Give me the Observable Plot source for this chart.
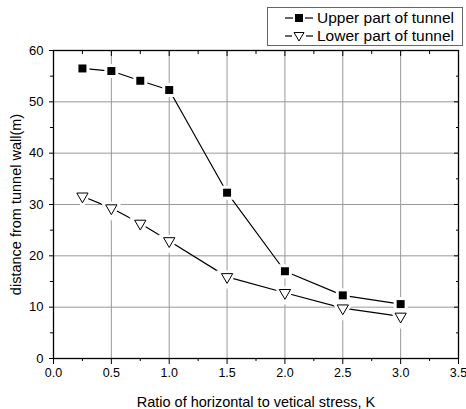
<!DOCTYPE html>
<html><head><meta charset="utf-8">
<script src="https://cdn.jsdelivr.net/npm/d3@7"></script>
<script src="https://cdn.jsdelivr.net/npm/@observablehq/plot@0.6"></script>
<style>
body{margin:0;background:#fff;font-family:"Liberation Sans",Arial,sans-serif;}
#wrap{position:relative;width:466px;height:409px;}
#legend{position:absolute;left:267px;top:7px;width:194px;height:37px;border:1px solid #666;background:#fff;font-size:15.5px;}
.row{position:absolute;height:18px;display:flex;align-items:center;}
.row span{margin-left:4px;}
</style></head>
<body><div id="wrap"><div id="chart"></div><div id="legend"></div></div>
<script>
const K = [0.25, 0.5, 0.75, 1.0, 1.5, 2.0, 2.5, 3.0];
const upper = [56.5, 56.0, 54.1, 52.3, 32.3, 17.0, 12.3, 10.6];
const lower = [31.6, 29.3, 26.3, 22.9, 15.9, 12.8, 9.8, 8.2];
const seriesNames = ["Upper part of tunnel", "Lower part of tunnel"];
const xMajor = [0, 0.5, 1.0, 1.5, 2.0, 2.5, 3.0, 3.5];
const xMinor = [0.25, 0.75, 1.25, 1.75, 2.25, 2.75, 3.25];
const yMajor = [0, 10, 20, 30, 40, 50, 60];
const yMinor = [5, 15, 25, 35, 45, 55];
const xTitle = "Ratio of horizontal to vetical stress, K";
const yTitle = "distance from tunnel wall(m)";

const up = K.map((k, i) => ({k, v: upper[i]}));
const lo = K.map((k, i) => ({k, v: lower[i]}));

const chart = Plot.plot({
  width: 466, height: 409,
  marginLeft: 53, marginRight: 8, marginTop: 50, marginBottom: 51,
  x: {domain: [0, 3.5]},
  y: {domain: [0, 60]},
  style: {fontFamily: "Liberation Sans, Arial, sans-serif", fontSize: "13px", color: "#000", background: "#fff"},
  marks: [
    Plot.gridX(xMajor.slice(1, -1), {stroke: "#999", strokeOpacity: 1, strokeWidth: 1}),
    Plot.gridY(yMajor.slice(1, -1), {stroke: "#999", strokeOpacity: 1, strokeWidth: 1}),
    Plot.frame({stroke: "#000", strokeWidth: 1.3}),
    Plot.axisX({ticks: xMajor, tickSize: 6, tickPadding: 4, tickFormat: d => d.toFixed(1), label: null, fontSize: 12.5}),
    Plot.axisX({ticks: xMinor, tickSize: 3, tickFormat: () => "", label: null}),
    Plot.axisX({anchor: "top", ticks: xMajor, tickSize: -5, tickFormat: () => "", label: null}),
    Plot.axisX({anchor: "top", ticks: xMinor, tickSize: -3, tickFormat: () => "", label: null}),
    Plot.axisX({ticks: [], label: xTitle, labelArrow: "none", labelAnchor: "center", labelOffset: 48, fontSize: 14.5}),
    Plot.axisY({ticks: yMajor, tickSize: 4, tickPadding: 6, label: null, fontSize: 13}),
    Plot.axisY({ticks: yMinor, tickSize: 3, tickFormat: () => "", label: null}),
    Plot.axisY({anchor: "right", ticks: yMajor, tickSize: -5, tickFormat: () => "", label: null}),
    Plot.axisY({anchor: "right", ticks: yMinor, tickSize: -3, tickFormat: () => "", label: null}),
    Plot.axisY({ticks: [], label: yTitle, labelArrow: "none", labelAnchor: "center", labelOffset: 43, fontSize: 14.5}),
    Plot.line(up, {x: "k", y: "v", stroke: "#000", strokeWidth: 1.2}),
    Plot.line(lo, {x: "k", y: "v", stroke: "#000", strokeWidth: 1.2}),
    Plot.dot(up, {x: "k", y: "v", symbol: "square", r: 4.5, fill: "#fff", stroke: "#fff", strokeWidth: 6}),
    Plot.dot(lo, {x: "k", y: "v", symbol: "triangle", rotate: 180, r: 4.2, fill: "#fff", stroke: "#fff", strokeWidth: 6}),
    Plot.dot(up, {x: "k", y: "v", symbol: "square", r: 4.5, fill: "#000", stroke: "none"}),
    Plot.dot(lo, {x: "k", y: "v", symbol: "triangle", rotate: 180, r: 4.2, fill: "#fff", stroke: "#000", strokeWidth: 1})
  ]
});
document.getElementById("chart").appendChild(chart);

const legend = document.getElementById("legend");
const glyphs = [
  `<svg width="28" height="14"><line x1="0" y1="7" x2="28" y2="7" stroke="#000" stroke-width="1.2"/><rect x="8" y="1" width="12" height="12" fill="#fff"/><rect x="10" y="3" width="8" height="8" fill="#000"/></svg>`,
  `<svg width="28" height="14"><line x1="0" y1="7" x2="28" y2="7" stroke="#000" stroke-width="1.2"/><rect x="7" y="1" width="14" height="12" fill="#fff"/><path d="M9,3.5 L19,3.5 L14,12 Z" fill="#fff" stroke="#000" stroke-width="1"/></svg>`
];
seriesNames.forEach((name, i) => {
  const row = document.createElement("div");
  row.className = "row";
  row.style.top = (1 + i * 18) + "px";
  row.style.left = "17px";
  row.innerHTML = glyphs[i] + `<span>${name}</span>`;
  legend.appendChild(row);
});
</script>
</body></html>
